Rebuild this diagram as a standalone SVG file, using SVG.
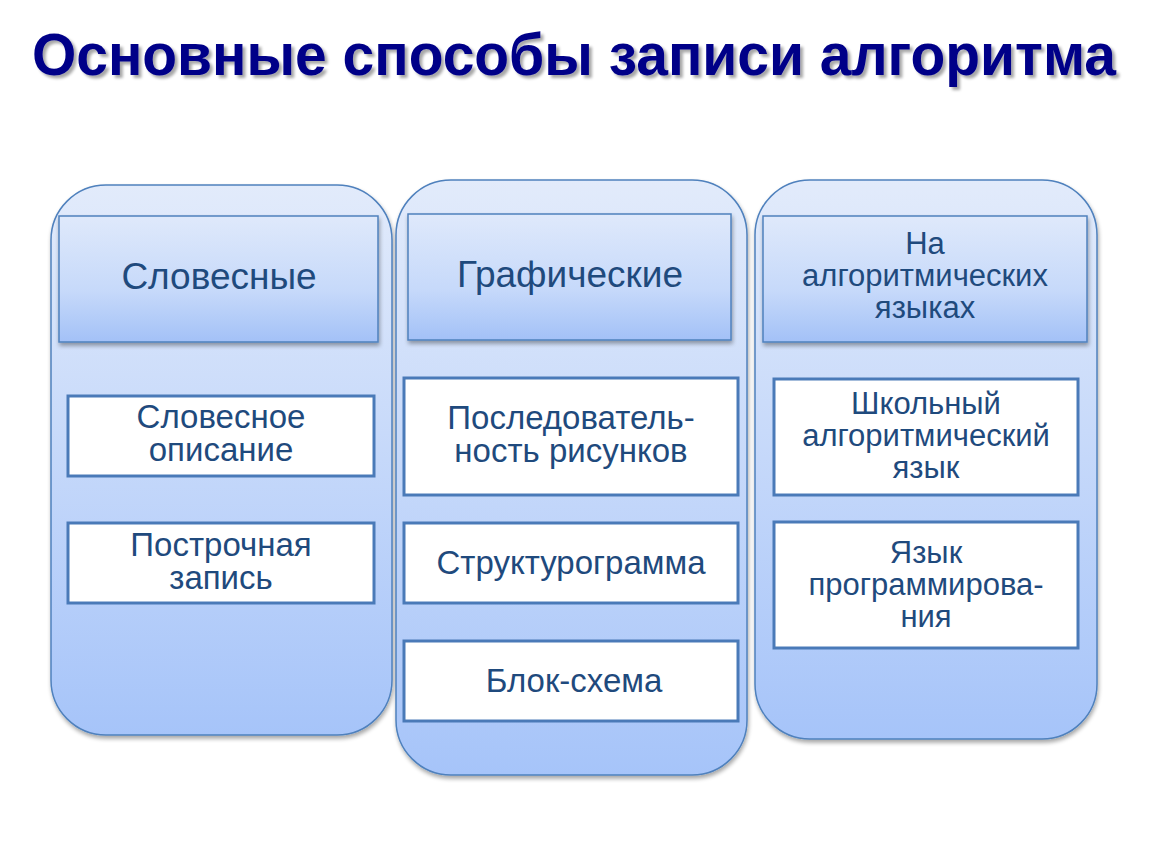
<svg xmlns="http://www.w3.org/2000/svg" width="1150" height="864" viewBox="0 0 1150 864">
<defs>
<linearGradient id="gOuter" x1="0" y1="0" x2="0" y2="1">
<stop offset="0" stop-color="#e2ebfb"/>
<stop offset="0.45" stop-color="#c8dafa"/>
<stop offset="1" stop-color="#a6c4f9"/>
</linearGradient>
<linearGradient id="gHead" x1="0" y1="0" x2="0" y2="1">
<stop offset="0" stop-color="#dfe9fb"/>
<stop offset="0.6" stop-color="#c6d9fa"/>
<stop offset="1" stop-color="#a3c1f7"/>
</linearGradient>
<filter id="sh" x="-10%" y="-10%" width="120%" height="120%">
<feGaussianBlur in="SourceAlpha" stdDeviation="2"/>
<feOffset dx="1" dy="3"/>
<feComponentTransfer><feFuncA type="linear" slope="0.35"/></feComponentTransfer>
<feMerge><feMergeNode/><feMergeNode in="SourceGraphic"/></feMerge>
</filter>
<filter id="tsh" x="-5%" y="-20%" width="110%" height="150%">
<feGaussianBlur in="SourceAlpha" stdDeviation="1.5"/>
<feOffset dx="3" dy="3"/>
<feComponentTransfer><feFuncA type="linear" slope="0.35"/></feComponentTransfer>
<feMerge><feMergeNode/><feMergeNode in="SourceGraphic"/></feMerge>
</filter>
</defs>
<style>
.outer{fill:url(#gOuter);stroke:#4f81bd;stroke-width:1.5}
.head{fill:url(#gHead);stroke:#4f81bd;stroke-width:1.5}
.item{fill:#ffffff;stroke:#4a7ab8;stroke-width:3}
.ht{font-family:"Liberation Sans",Arial,sans-serif;font-size:37px;fill:#1f4a7d;text-anchor:middle}
.ht2{font-family:"Liberation Sans",Arial,sans-serif;font-size:31px;fill:#1f4a7d;text-anchor:middle}
.it{font-family:"Liberation Sans",Arial,sans-serif;font-size:33px;fill:#1f4a7d;text-anchor:middle}
.it2{font-family:"Liberation Sans",Arial,sans-serif;font-size:31px;fill:#1f4a7d;text-anchor:middle}
.title{font-family:"Liberation Sans",Arial,sans-serif;font-size:60px;font-weight:bold;fill:#000088}
</style>
<rect width="1150" height="864" fill="#ffffff"/>
<text class="title" x="32" y="75" textLength="1084" lengthAdjust="spacingAndGlyphs" filter="url(#tsh)">Основные способы записи алгоритма</text>

<g id="col1">
<rect class="outer" x="51" y="185" width="341" height="550" rx="55" filter="url(#sh)"/>
<rect class="head" x="59" y="216" width="319" height="126" filter="url(#sh)"/>
<text class="ht" x="219" y="289">Словесные</text>
</g>
<g id="col2">
<rect class="outer" x="396" y="180" width="351" height="595" rx="55" filter="url(#sh)"/>
<rect class="head" x="408" y="214" width="323" height="126" filter="url(#sh)"/>
<text class="ht" x="570" y="287">Графические</text>
</g>
<g id="col3">
<rect class="outer" x="755" y="180" width="342" height="559" rx="55" filter="url(#sh)"/>
<rect class="head" x="763" y="216" width="324" height="126" filter="url(#sh)"/>
<text class="ht2" x="925" y="254">На</text>
<text class="ht2" x="925" y="286">алгоритмических</text>
<text class="ht2" x="925" y="318">языках</text>
</g>

<g id="n1">
<rect class="item" x="68" y="396" width="306" height="80"/>
<text class="it" x="221" y="428">Словесное</text>
<text class="it" x="221" y="461">описание</text>
</g>
<g id="n2">
<rect class="item" x="68" y="523" width="306" height="80"/>
<text class="it" x="221" y="556">Построчная</text>
<text class="it" x="221" y="589">запись</text>
</g>
<g id="n3">
<rect class="item" x="404" y="378" width="334" height="117"/>
<text class="it" x="571" y="429">Последователь-</text>
<text class="it" x="571" y="462">ность рисунков</text>
</g>
<g id="n4">
<rect class="item" x="404" y="523" width="334" height="80"/>
<text class="it" x="571" y="574">Структурограмма</text>
</g>
<g id="n5">
<rect class="item" x="404" y="641" width="334" height="80"/>
<text class="it" x="574" y="692">Блок-схема</text>
</g>
<g id="n6">
<rect class="item" x="774" y="379" width="304" height="116"/>
<text class="it2" x="926" y="414">Школьный</text>
<text class="it2" x="926" y="446">алгоритмический</text>
<text class="it2" x="926" y="478">язык</text>
</g>
<g id="n7">
<rect class="item" x="774" y="522" width="304" height="126"/>
<text class="it2" x="926" y="563">Язык</text>
<text class="it2" x="926" y="595">программирова-</text>
<text class="it2" x="926" y="627">ния</text>
</g>
<g id="connectors"/>
</svg>
